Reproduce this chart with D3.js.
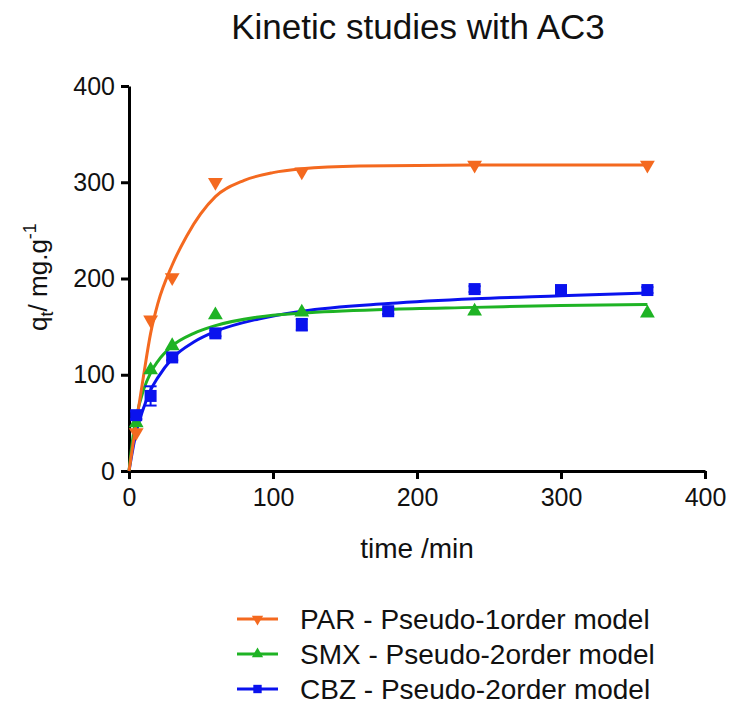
<!DOCTYPE html>
<html>
<head>
<meta charset="utf-8">
<script src="https://cdn.jsdelivr.net/npm/d3@7"></script>
<style>
  html, body { margin: 0; padding: 0; background: #fff; }
  svg { display: block; font-family: "Liberation Sans", Arial, sans-serif; }
</style>
</head>
<body>
<svg id="chart" width="731" height="709"></svg>
<script>
// Measured adsorption (q_t, mg/g) versus contact time (min)
const parTime = [5, 15, 30, 60, 120, 240, 360];
const parQ    = [40, 157, 201, 300, 311, 318, 318];

const smxTime = [5, 15, 30, 60, 120, 240, 360];
const smxQ    = [50, 105, 130, 162, 165, 166, 164];

const cbzTime = [5, 15, 30, 60, 120, 180, 240, 300, 360];
const cbzQ    = [58, 78, 118, 143, 152, 166, 189, 188, 188];
const cbzErr  = [4, 10, 3, 3, 6, 3, 3, 3, 3];

// Fitted kinetic model curves
const parFitTime = [0, 5, 10, 15, 20, 30, 40, 60, 80, 100, 120, 160, 240, 360];
const parFitQ    = [0, 50, 98, 143, 174, 214, 244, 285, 302, 310, 314, 317, 318, 318];

const smxFitTime = [0, 3, 5, 10, 15, 20, 30, 45, 60, 90, 120, 180, 240, 300, 360];
const smxFitQ    = [0, 38, 55, 84, 102, 114, 130, 143, 151, 160, 164, 168, 170, 172, 173];

const cbzFitTime = [0, 5, 10, 15, 20, 30, 45, 60, 90, 120, 180, 240, 300, 360];
const cbzFitQ    = [0, 40, 65, 84, 97, 117, 134, 145, 158, 166, 174, 179, 182, 185];

const xTicks = [0, 100, 200, 300, 400];
const yTicks = [0, 100, 200, 300, 400];

const seriesNames = ["PAR - Pseudo-1order model", "SMX - Pseudo-2order model", "CBZ - Pseudo-2order model"];
const seriesColors = ["#F4691F", "#1EB324", "#0A12EE"];

const svg = d3.select("#chart");
const x = d3.scaleLinear().domain([0, 400]).range([129, 705]);
const y = d3.scaleLinear().domain([0, 400]).range([471, 86]);

// Title
svg.append("text").attr("x", 418).attr("y", 39).attr("text-anchor", "middle")
  .attr("font-size", 35).attr("fill", "#111").text("Kinetic studies with AC3");

// Axes
const xAxis = svg.append("g").attr("transform", `translate(0,${y(0)})`)
  .call(d3.axisBottom(x).tickValues(xTicks).tickSize(8).tickSizeOuter(0).tickPadding(6));
const yAxis = svg.append("g").attr("transform", `translate(${x(0)},0)`)
  .call(d3.axisLeft(y).tickValues(yTicks).tickSize(8).tickSizeOuter(0).tickPadding(6));
[xAxis, yAxis].forEach(g => {
  g.select(".domain").attr("stroke", "#000").attr("stroke-width", 3);
  g.selectAll(".tick line").attr("stroke", "#000").attr("stroke-width", 3);
  g.selectAll(".tick text").attr("font-size", 25).attr("fill", "#111")
    .attr("font-family", "'Liberation Sans', Arial, sans-serif");
});
xAxis.selectAll(".tick text").attr("dy", "0.85em");

// Axis titles
svg.append("text").attr("x", 417).attr("y", 558).attr("text-anchor", "middle")
  .attr("font-size", 28).attr("fill", "#111").text("time /min");

const yLab = svg.append("text").attr("transform", "translate(47,277) rotate(-90)")
  .attr("text-anchor", "middle").attr("font-size", 26).attr("fill", "#111");
yLab.append("tspan").text("q");
yLab.append("tspan").attr("font-size", 18).attr("dy", 6).text("t");
yLab.append("tspan").attr("dy", -6).text("/ mg.g");
yLab.append("tspan").attr("font-size", 18).attr("dy", -11).text("-1");

// Fitted curves
const line = d3.line().x(d => x(d[0])).y(d => y(d[1])).curve(d3.curveMonotoneX);
const fits = [
  d3.zip(cbzFitTime, cbzFitQ),
  d3.zip(smxFitTime, smxFitQ),
  d3.zip(parFitTime, parFitQ)
];
const fitColors = [seriesColors[2], seriesColors[1], seriesColors[0]];
fits.forEach((pts, i) => {
  svg.append("path").attr("d", line(pts)).attr("fill", "none")
    .attr("stroke", fitColors[i]).attr("stroke-width", 3);
});

// Error bars for CBZ
const eb = svg.append("g").attr("stroke", seriesColors[2]).attr("stroke-width", 2);
cbzTime.forEach((t, i) => {
  const e = cbzErr[i];
  const cx = x(t);
  eb.append("line").attr("x1", cx).attr("x2", cx).attr("y1", y(cbzQ[i] - e)).attr("y2", y(cbzQ[i] + e));
  [cbzQ[i] - e, cbzQ[i] + e].forEach(v => {
    eb.append("line").attr("x1", cx - 6).attr("x2", cx + 6).attr("y1", y(v)).attr("y2", y(v));
  });
});

// Markers
const triUp = d3.symbol().type(d3.symbolTriangle).size(95);
const square = d3.symbol().type(d3.symbolSquare).size(144);
function drawMarkers(times, qs, sym, color, rot) {
  times.forEach((t, i) => {
    svg.append("path").attr("d", sym())
      .attr("transform", `translate(${x(t)},${y(qs[i])}) rotate(${rot})`)
      .attr("fill", color);
  });
}
drawMarkers(smxTime, smxQ, triUp, seriesColors[1], 0);
drawMarkers(cbzTime, cbzQ, square, seriesColors[2], 0);
drawMarkers(parTime, parQ, triUp, seriesColors[0], 180);

// Legend
const legendY = [619, 654, 689];
const legendSyms = [
  { s: d3.symbol().type(d3.symbolTriangle).size(55), r: 180 },
  { s: d3.symbol().type(d3.symbolTriangle).size(55), r: 0 },
  { s: d3.symbol().type(d3.symbolSquare).size(70), r: 0 }
];
seriesNames.forEach((name, i) => {
  const g = svg.append("g").attr("transform", `translate(0,${legendY[i]})`);
  g.append("line").attr("x1", 237).attr("x2", 278).attr("y1", 0).attr("y2", 0)
    .attr("stroke", seriesColors[i]).attr("stroke-width", 3);
  g.append("path").attr("d", legendSyms[i].s())
    .attr("transform", `translate(257.5,0) rotate(${legendSyms[i].r})`)
    .attr("fill", seriesColors[i]);
  g.append("text").attr("x", 300).attr("y", 10).attr("font-size", 28)
    .attr("fill", "#111").text(name);
});
</script>
</body>
</html>
